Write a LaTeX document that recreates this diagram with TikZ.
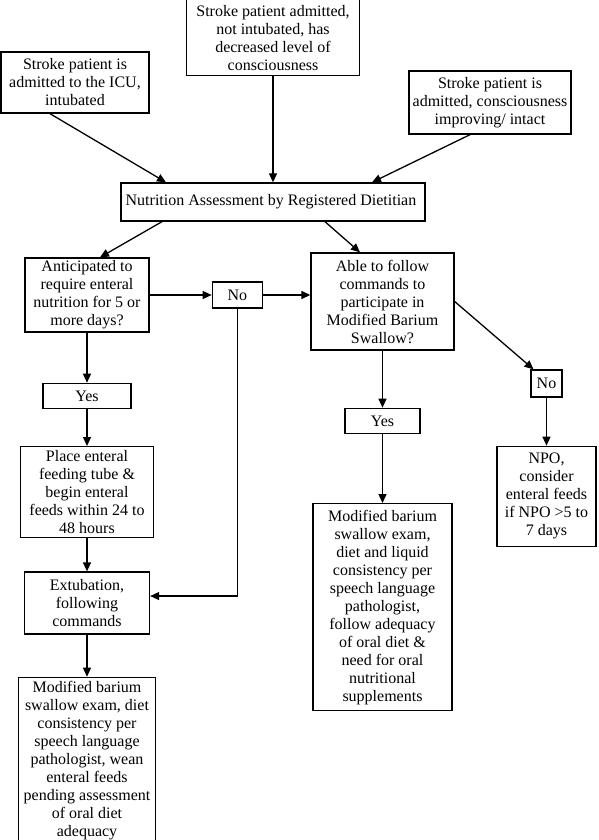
\documentclass[tikz,border=0pt]{standalone}
\usepackage{fontspec}
\setmainfont{Liberation Serif}
\usepackage{tikz}
\usetikzlibrary{positioning,arrows.meta}

\begin{document}
\begin{tikzpicture}[
    box/.style={rectangle,draw,line width=1.35pt,align=center,inner sep=2pt,font=\fontsize{16}{18}\selectfont},
    tag/.style={box,minimum height=25pt},
    arrow/.style={-{Triangle[length=9pt,width=8pt]},line width=1.3pt},
]
\useasboundingbox (0,0) rectangle (598pt,-840pt);

% ===== Assessment =====
\node[box,minimum width=304pt,minimum height=38pt] (assess) at (273pt,-202pt) {
    Nutrition Assessment by Registered Dietitian
};

% ===== Admission cases =====
\node[box,minimum width=148pt,minimum height=61pt] (icu) at (75pt,-82.5pt) {
    Stroke patient is\\admitted to the ICU,\\intubated
};
\node[box,minimum width=173pt,minimum height=76pt,above=106pt of assess] (lowloc) {
    Stroke patient admitted,\\not intubated, has\\decreased level of\\consciousness
};
\node[box,minimum width=162pt,minimum height=63pt] (intact) at (490pt,-102.5pt) {
    Stroke patient is\\admitted, consciousness\\improving/ intact
};

\draw[arrow] ([xshift=-25pt]icu.south) -- ([xshift=-107pt]assess.north);
\draw[arrow] (lowloc.south) -- (assess.north);
\draw[arrow] ([xshift=-20pt]intact.south) -- ([xshift=99pt]assess.north);

% ===== Left branch: enteral nutrition =====
\node[box,minimum width=124pt,minimum height=74pt] (anticip) at (87pt,-295pt) {
    Anticipated to\\require enteral\\nutrition for 5 or\\more days?
};
\node[tag,minimum width=50pt,minimum height=26pt,right=62pt of anticip] (noleft) {No};
\node[tag,minimum width=88pt,below=50pt of anticip] (yesleft) {Yes};
\node[box,minimum width=133pt,minimum height=91pt,below=37pt of yesleft] (tube) {
    Place enteral\\feeding tube \&\\begin enteral\\feeds within 24 to\\48 hours
};
\node[box,minimum width=125pt,minimum height=62pt,below=33pt of tube] (extub) {
    Extubation,\\following\\commands
};
\node[box,minimum width=137pt,minimum height=166pt,below=42pt of extub] (weanmbs) {
    Modified barium\\swallow exam, diet\\consistency per\\speech language\\pathologist, wean\\enteral feeds\\pending assessment\\of oral diet\\adequacy
};

% ===== Right branch: swallow study =====
\node[box,minimum width=143pt,minimum height=97pt] (follow) at (382.5pt,-301.5pt) {
    Able to follow\\commands to\\participate in\\Modified Barium\\Swallow?
};
\node[tag,minimum width=75pt,below=57pt of follow] (yesright) {Yes};
\node[box,minimum width=139pt,minimum height=207pt,below=69pt of yesright] (oralmbs) {
    Modified barium\\swallow exam,\\diet and liquid\\consistency per\\speech language\\pathologist,\\follow adequacy\\of oral diet \&\\need for oral\\nutritional\\supplements
};
\node[tag,minimum width=31pt,minimum height=27pt] (noright) at (546.5pt,-383.5pt) {No};
\node[box,minimum width=99pt,minimum height=100pt,below=48pt of noright] (npo) {
    NPO,\\consider\\enteral feeds\\if NPO >5 to\\7 days
};

% Connections
\draw[arrow] ([xshift=-111pt]assess.south) -- ([xshift=13pt]anticip.north);
\draw[arrow] ([xshift=52pt]assess.south) -- ([xshift=-22.5pt]follow.north);
\draw[arrow] (anticip.east) -- (noleft.west);
\draw[arrow] (noleft.east) -- (noleft.east -| follow.west);
\draw[arrow] (anticip.south) -- (yesleft.north);
\draw[arrow] (yesleft.south) -- (tube.north);
\draw[arrow] (tube.south) -- (extub.north);
\draw[arrow] (noleft.south) |- ([yshift=7pt]extub.east);
\draw[arrow] (extub.south) -- (weanmbs.north);
\draw[arrow] (follow.south) -- (yesright.north);
\draw[arrow] (yesright.south) -- (oralmbs.north);
\draw[arrow] (follow.east) -- ([xshift=-13pt]noright.north);
\draw[arrow] (noright.south) -- (npo.north);

\end{tikzpicture}
\end{document}
